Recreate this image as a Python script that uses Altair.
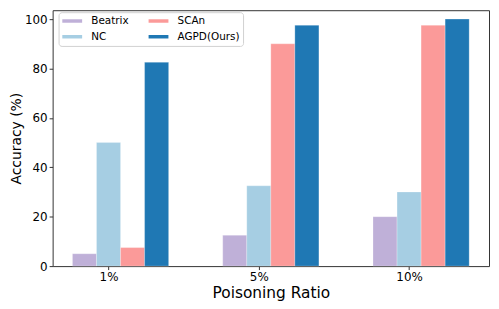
import altair as alt
import pandas as pd

groups = ["1%", "5%", "10%"]
methods = ["Beatrix", "NC", "SCAn", "AGPD(Ours)"]
beatrix = [5, 12.5, 20]
nc = [50, 32.5, 30]
scan = [7.5, 90, 97.5]
agpd = [82.5, 97.5, 100]
colors = ["#bfb0d8", "#a6cee3", "#fb9a99", "#1f78b4"]

series = [beatrix, nc, scan, agpd]
bar_w = 0.16
rows = []
for j, (m, vals) in enumerate(zip(methods, series)):
    for i, v in enumerate(vals):
        center = i + (j - 1) * bar_w
        rows.append({"method": m, "group": groups[i], "gi": i,
                     "x0": center - bar_w / 2, "x1": center + bar_w / 2,
                     "acc": v, "base": 0})
df = pd.DataFrame(rows)

# legend filled column-wise like matplotlib (ncol=2)
leg_order = [methods[0], methods[2], methods[1], methods[3]]
leg_colors = [colors[0], colors[2], colors[1], colors[3]]

font = "DejaVu Sans"
label_expr = "[" + ",".join("'%s'" % g for g in groups) + "][datum.value]"

chart = alt.Chart(df).mark_rect(stroke="white", strokeWidth=0.4, strokeOpacity=0.6).encode(
    x=alt.X("x0:Q", scale=alt.Scale(domain=[-0.372, 2.532], nice=False, zero=False),
            axis=alt.Axis(values=[0, 1, 2], labelExpr=label_expr, title="Poisoning Ratio",
                          grid=False, domain=False, tickColor="#333", tickSize=3.5,
                          labelFontSize=12, titleFontSize=15.5, labelPadding=2,
                          titlePadding=3, labelColor="black", titleColor="black",
                          titleFontWeight="normal", labelFont=font, titleFont=font)),
    x2="x1:Q",
    y=alt.Y("acc:Q", scale=alt.Scale(domain=[0, 103.6], nice=False),
            axis=alt.Axis(values=[0, 20, 40, 60, 80, 100], title="Accuracy (%)",
                          grid=False, domain=False, tickColor="#333", tickSize=3.5,
                          labelFontSize=12, titleFontSize=14, labelPadding=2,
                          titlePadding=1, labelColor="black", titleColor="black",
                          titleFontWeight="normal", labelFont=font, titleFont=font)),
    y2="base:Q",
    color=alt.Color("method:N", scale=alt.Scale(domain=leg_order, range=leg_colors),
                    legend=alt.Legend(title=None, orient="none", legendX=6, legendY=2,
                                      columns=2, direction="horizontal",
                                      symbolType="M-1,-0.35L3,-0.35L3,0.35L-1,0.35Z",
                                      symbolSize=100, symbolStrokeWidth=0, symbolOpacity=1,
                                      labelFontSize=10.5, labelFont=font, labelColor="black",
                                      labelOffset=19, columnPadding=19, rowPadding=5,
                                      fillColor="rgba(255,255,255,0.8)", strokeColor="#d0d0d0",
                                      cornerRadius=3, padding=3.5, labelLimit=200)),
).properties(
    width=440, height=258,
    autosize=alt.AutoSizeParams(type="none"),
    padding={"left": 45, "top": 1, "right": 2, "bottom": 40},
).configure_view(stroke="#333", strokeWidth=1)

chart.save("out.html", embed_options={"renderer": "svg", "actions": False})
